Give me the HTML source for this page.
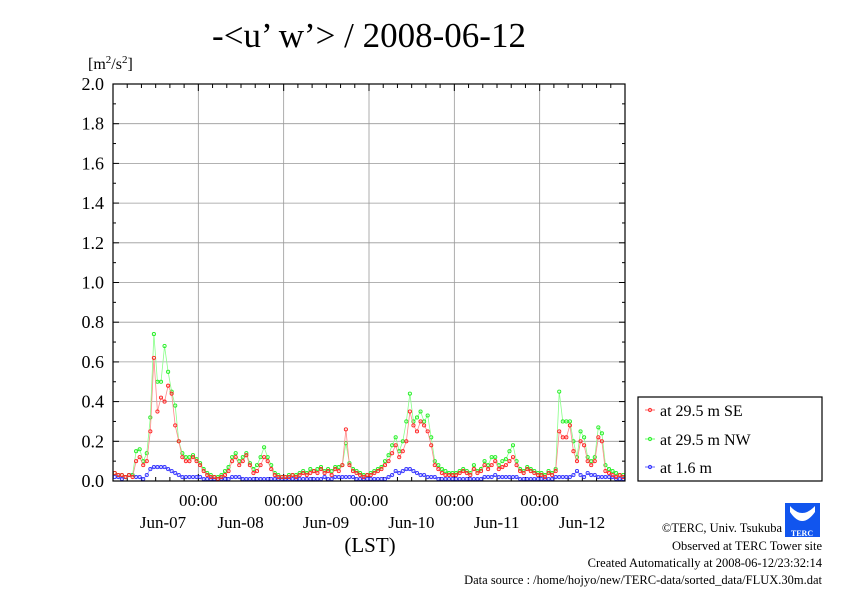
<!DOCTYPE html>
<html><head><meta charset="utf-8"><style>
body{margin:0;background:#fff;}
svg text{font-family:"Liberation Serif",serif;}
</style></head><body>
<svg id="chart" width="842" height="595" xmlns="http://www.w3.org/2000/svg">
<text x="369" y="47" font-size="35" text-anchor="middle">-&lt;u’ w’&gt; / 2008-06-12</text>
<text x="88" y="69" font-size="16">[m<tspan font-size="11" dy="-6">2</tspan><tspan dy="6">/s</tspan><tspan font-size="11" dy="-6">2</tspan><tspan dy="6">]</tspan></text>
<g id="grid"></g><g id="axes"></g><g id="series"></g>
<rect x="113" y="84" width="512" height="397" fill="none" stroke="#000" stroke-width="1.2"/>
<text x="370" y="552" font-size="21" text-anchor="middle">(LST)</text>
<g>
<rect x="638" y="397" width="184" height="84" fill="#fff" stroke="#000" stroke-width="1.2"/>
<line x1="645" y1="410" x2="655" y2="410" stroke="#f66"/><circle cx="650" cy="410" r="1.6" fill="none" stroke="#f33"/>
<text x="660" y="416" font-size="16">at 29.5 m SE</text>
<line x1="645" y1="439" x2="655" y2="439" stroke="#6f6"/><circle cx="650" cy="439" r="1.6" fill="none" stroke="#3e3"/>
<text x="660" y="445" font-size="16">at 29.5 m NW</text>
<line x1="645" y1="467" x2="655" y2="467" stroke="#66f"/><circle cx="650" cy="467" r="1.6" fill="none" stroke="#33f"/>
<text x="660" y="473" font-size="16">at 1.6 m</text>
</g>
<g>
<rect x="785" y="503" width="35" height="34" fill="#1155ee"/>
<path d="M790 506 Q802 520 815 506 L815 512 Q802 530 790 512Z" fill="#fff"/>
<text x="802" y="536" font-size="8" fill="#fff" text-anchor="middle" font-weight="bold">TERC</text>
</g>
<g font-size="12.5" text-anchor="end">
<text x="782" y="532">©TERC, Univ. Tsukuba</text>
<text x="822" y="550">Observed at TERC Tower site</text>
<text x="822" y="567">Created Automatically at 2008-06-12/23:32:14</text>
<text x="822" y="584">Data source : /home/hojyo/new/TERC-data/sorted_data/FLUX.30m.dat</text>
</g>
</svg>
<script>
const yTicks=["0.0","0.2","0.4","0.6","0.8","1.0","1.2","1.4","1.6","1.8","2.0"];
const xTickLabels=["00:00","00:00","00:00","00:00","00:00"];
const dateLabels=["Jun-07","Jun-08","Jun-09","Jun-10","Jun-11","Jun-12"];
const se=[.04,.03,.03,.02,.03,.02,.1,.12,.08,.1,.25,.62,.35,.42,.4,.48,.44,.28,.2,.12,.1,.1,.12,.1,
.08,.05,.03,.02,.02,.01,.02,.03,.05,.1,.12,.08,.1,.13,.08,.04,.05,.08,.12,.1,.06,.03,.02,.02,
.02,.02,.03,.02,.03,.04,.03,.04,.05,.04,.06,.04,.05,.03,.06,.05,.08,.26,.08,.05,.04,.03,.02,.03,
.03,.04,.05,.06,.08,.1,.14,.18,.12,.15,.2,.35,.28,.25,.3,.28,.25,.18,.08,.06,.04,.03,.03,.03,
.03,.04,.05,.04,.03,.06,.04,.05,.08,.06,.08,.1,.06,.07,.08,.1,.12,.08,.05,.04,.06,.05,.04,.03,
.03,.02,.04,.03,.05,.25,.22,.22,.28,.15,.1,.2,.18,.1,.08,.1,.22,.2,.05,.04,.03,.02,.03,.02];
const nw=[.04,.03,.03,.02,.03,.03,.15,.16,.1,.14,.32,.74,.5,.5,.68,.55,.45,.38,.2,.14,.12,.12,.13,.11,
.09,.06,.04,.03,.02,.02,.03,.05,.07,.12,.14,.1,.12,.14,.09,.06,.08,.12,.17,.12,.08,.04,.03,.02,
.02,.03,.03,.03,.04,.05,.04,.06,.05,.06,.07,.05,.06,.05,.07,.07,.08,.19,.09,.06,.05,.04,.03,.03,
.04,.05,.06,.07,.1,.13,.18,.22,.15,.2,.3,.44,.3,.32,.35,.3,.33,.22,.1,.08,.06,.05,.04,.04,
.04,.05,.06,.05,.04,.08,.05,.06,.1,.08,.12,.12,.08,.1,.11,.15,.18,.1,.06,.05,.07,.06,.05,.04,
.04,.03,.05,.04,.06,.45,.3,.3,.3,.2,.12,.25,.22,.12,.1,.12,.27,.24,.08,.06,.05,.04,.03,.03];
const low=[.02,.02,.01,.02,.03,.03,.02,.02,.01,.03,.06,.07,.07,.07,.07,.06,.05,.04,.03,.02,.02,.02,.02,.02,
.02,.01,.01,.01,.01,.01,.01,.01,.01,.02,.02,.02,.01,.01,.01,.01,.01,.01,.01,.01,.01,.01,.01,.01,
.01,.01,.01,.01,.01,.01,.01,.01,.01,.01,.01,.02,.01,.01,.02,.02,.02,.02,.02,.02,.01,.01,.01,.01,
.01,.01,.01,.01,.01,.02,.03,.05,.04,.05,.06,.06,.05,.04,.03,.03,.02,.02,.02,.01,.01,.01,.01,.01,
.01,.01,.01,.01,.01,.01,.01,.01,.02,.02,.02,.03,.02,.02,.02,.02,.02,.02,.01,.01,.01,.01,.01,.01,
.01,.01,.01,.01,.02,.02,.02,.02,.02,.03,.05,.03,.02,.04,.03,.03,.02,.02,.02,.02,.02,.01,.01,.01];
const NS="http://www.w3.org/2000/svg";
const X0=113,X1=625,Y0=481,Y1=84,YMAX=2.0,NPTS=se.length;
const xS=i=>X0+(i+0.5)*(X1-X0)/NPTS;
const xDay=d=>X0+d*(X1-X0)/6;
const yS=v=>Y0-v/YMAX*(Y0-Y1);
function mk(tag,attrs,parent){const e=document.createElementNS(NS,tag);for(const k in attrs)e.setAttribute(k,attrs[k]);parent.appendChild(e);return e;}
const grid=document.getElementById('grid'),axes=document.getElementById('axes'),ser=document.getElementById('series');
yTicks.forEach((t,i)=>{const v=parseFloat(t),y=yS(v);
 if(i>0&&i<yTicks.length-1){const g=mk('line',{x1:X0,x2:X1,y1:y,y2:y,stroke:'#999','stroke-width':0.8},grid);
 
 }
 const tx=mk('text',{x:104,y:y+6,'font-size':18,'text-anchor':'end'},axes);tx.textContent=t;
 
 
 for(const side of [0,1]){const xx=side?X1:X0,dir=side?-1:1;
  const tk=mk('line',{x1:xx,x2:xx+dir*6,y1:y,y2:y,stroke:'#000'},axes);
  
  
  if(i<yTicks.length-1){const ym=yS(v+0.1);const mt=mk('line',{x1:xx,x2:xx+dir*3,y1:ym,y2:ym,stroke:'#000'},axes);
  
  }}
});
for(let d=1;d<=5;d++){const x=xDay(d);
 const g=mk('line',{x1:x,x2:x,y1:Y1,y2:Y0,stroke:'#999','stroke-width':0.8},grid);
 
 
 const t=mk('text',{x:x,y:506,'font-size':17,'text-anchor':'middle'},axes);t.textContent=xTickLabels[d-1];
 
 }
for(let d=0;d<6;d++){const t=mk('text',{x:Math.max(163,xDay(d+1)-43),y:528,'font-size':17,'text-anchor':'middle'},axes);t.textContent=dateLabels[d];
 
 }
for(let h=0;h<=36;h++){const x=xDay(h/6);for(const yy of [Y0,Y1]){const dir=yy===Y0?-1:1;const len=h%6===0?7:4;
 const tk=mk('line',{x1:x,x2:x,y1:yy,y2:yy+dir*len,stroke:'#000'},axes);
 
 }}
function draw(arr,line,mark,name){const g=mk('g',{},ser);
 
 
 const p=mk('polyline',{points:arr.map((v,i)=>xS(i)+','+yS(v)).join(' '),fill:'none',stroke:line,'stroke-width':0.8},g);
 
 
 arr.forEach((v,i)=>{const c=mk('circle',{cx:xS(i),cy:yS(v),r:1.6,fill:'none',stroke:mark,'stroke-width':0.9},g);
 
 });}
draw(low,'#88f','#33f','series-1-6m');
draw(nw,'#8f8','#2e2','series-29-5m-nw');
draw(se,'#f88','#f22','series-29-5m-se');
</script>
</body></html>
